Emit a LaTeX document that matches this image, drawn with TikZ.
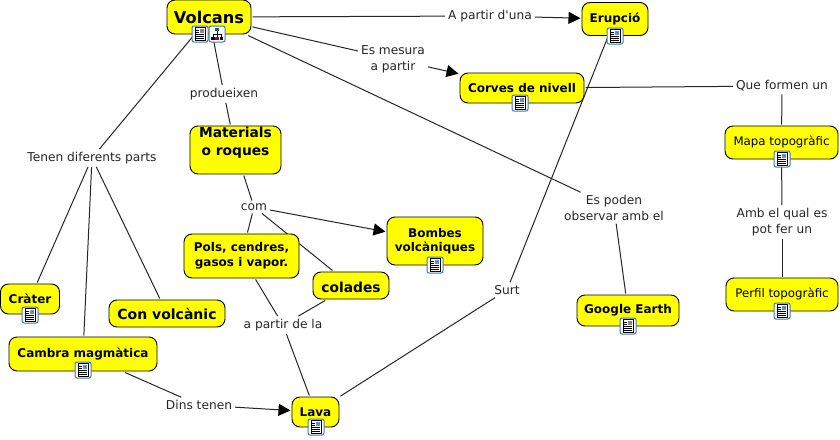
\documentclass[tikz,border=0pt]{standalone}
\usepackage{fontspec}
\setmainfont{DejaVu Sans}
\newfontfamily\plaindv{DejaVu Sans}
\usetikzlibrary{arrows.meta,backgrounds}
\definecolor{cmapy}{HTML}{FFFF00}
\definecolor{iconb}{HTML}{3C78C0}
\tikzset{
  concept/.style={draw=black,line width=0.9pt,fill=cmapy,rounded corners=8pt,align=center,inner sep=0pt,outer sep=1.5pt,text=black},
  lbl/.style={font=\fontsize{12.2}{16}\selectfont,align=center,inner sep=2pt,outer sep=1pt,text=black!85},
  conn/.style={draw=black!85,line width=1pt},
  arr/.style={conn,-{Triangle[length=12pt,width=12pt,color=black]}},
  docicon/.pic={
    \draw[iconb,fill=white,rounded corners=2pt,line width=1pt] (-8,-8) rectangle (8,8);
    \draw[black,fill=white,line width=0.8pt] (-5,-6.5) rectangle (5,6.5);
    \fill[iconb!80] (0,-5.5) rectangle (4.2,-1);
    \fill[red!60!orange] (1.5,-4.5) rectangle (3.2,-3);
    \foreach \yy in {0.5,2.5,4.5}{\draw[black,line width=0.7pt] (-4,\yy) -- (4,\yy);}
    \draw[black,line width=0.7pt] (-4,-3.5) -- (-1,-3.5);
    \draw[black,line width=0.7pt] (-4,-1.5) -- (-1,-1.5);
  },
  treeicon/.pic={
    \draw[iconb,fill=white,rounded corners=2pt,line width=1pt] (-8,-8) rectangle (8,8);
    \draw[black,line width=0.7pt] (0,-3) -- (0,0) (-4,3) -- (-4,0) -- (4,0) -- (4,3) (0,0) -- (0,3);
    \fill[iconb!70!black] (-1.8,-6) rectangle (1.8,-3);
    \fill[black!80!blue] (-6,2.5) rectangle (-2.5,6);
    \fill[red!70!black] (-1.6,2.5) rectangle (1.6,6);
    \fill[black!80!blue] (2.5,2.5) rectangle (6,6);
  }
}
\begin{document}
\begin{tikzpicture}[x=1pt,y=-1pt]
\useasboundingbox (0,0) rectangle (840,439);
% concepts
\node[concept,minimum width=84pt,minimum height=34pt,font=\fontsize{16.2}{20}\selectfont\bfseries] (volc) at (209,17) {Volcans};
\node[concept,minimum width=66pt,minimum height=33pt,font=\fontsize{12}{15}\selectfont\bfseries] (erup) at (615,19) {Erupció};
\node[concept,minimum width=124pt,minimum height=30pt,font=\fontsize{12}{15}\selectfont\bfseries] (corv) at (522,88) {Corves de nivell};
\node[concept,minimum width=91pt,minimum height=48pt,text height=14pt,font=\fontsize{13.8}{18}\selectfont\bfseries] (mat) at (235.5,150) {Materials\\o roques};
\node[concept,minimum width=113pt,minimum height=33pt,font=\fontsize{11.8}{15}\selectfont] (mapa) at (781.5,142.5) {Mapa topogràfic};
\node[concept,minimum width=112pt,minimum height=33pt,font=\fontsize{11.8}{15}\selectfont] (perf) at (782,294.5) {Perfil topogràfic};
\node[concept,minimum width=96pt,minimum height=48pt,font=\fontsize{12}{14.5}\selectfont\bfseries] (bomb) at (435,241) {Bombes\\volcàniques};
\node[concept,minimum width=115pt,minimum height=44pt,font=\fontsize{12}{15}\selectfont\bfseries] (pols) at (241.5,256) {Pols, cendres,\\gasos i vapor.};
\node[concept,minimum width=76pt,minimum height=27pt,text height=14pt,font=\fontsize{13.8}{18}\selectfont\bfseries] (cola) at (351,285.5) {colades};
\node[concept,minimum width=116pt,minimum height=27pt,text height=13pt,font=\fontsize{14}{18}\selectfont\bfseries] (con) at (167,313.5) {Con volcànic};
\node[concept,minimum width=59pt,minimum height=30pt,font=\fontsize{12}{15}\selectfont\bfseries] (crat) at (30,299) {Cràter};
\node[concept,minimum width=148pt,minimum height=34pt,font=\fontsize{12}{15}\selectfont\bfseries] (camb) at (83,354) {Cambra magmàtica};
\node[concept,minimum width=47pt,minimum height=30pt,font=\fontsize{12}{15}\selectfont\bfseries] (lava) at (315.5,412) {Lava};
\node[concept,minimum width=102pt,minimum height=31pt,font=\fontsize{12}{15}\selectfont\bfseries] (goog) at (628,310.5) {Google Earth};
% labels
\node[lbl] (lpartir) at (490,16) {\plaindv A partir d'una};
\node[lbl] (lmesura) at (393,59) {Es mesura\\a partir};
\node[lbl] (lpoden) at (614,208) {Es poden\\observar amb el};
\node[lbl] (lprod) at (224,94) {produeixen};
\node[lbl] (ltenen) at (92,158) {Tenen diferents parts};
\node[lbl] (lcom) at (254,207) {com};
\node[lbl] (lapartir) at (283,325) {a partir de la};
\node[lbl] (ldins) at (199,405) {Dins tenen};
\node[lbl] (lsurt) at (507,290) {Surt};
\node[lbl] (lque) at (782,86) {Que formen un};
\node[lbl] (lamb) at (782,222) {Amb el qual es\\pot fer un};
% connectors
\begin{pgfonlayer}{background}
\fill[white] (0,0) rectangle (840,439);
\draw[conn] (volc) -- (lpartir);
\draw[arr] (lpartir) -- (erup);
\draw[conn] (volc) -- (lmesura);
\draw[arr] (lmesura) -- (corv);
\draw[conn] (volc) -- (lpoden);
\draw[conn] (lpoden) -- (goog);
\draw[conn] (volc) -- (lprod);
\draw[conn] (lprod) -- (mat);
\draw[conn] (volc) -- (ltenen);
\draw[conn] (ltenen) -- (crat);
\draw[conn] (ltenen) -- (camb);
\draw[conn] (ltenen) -- (con);
\draw[conn] (mat) -- (lcom);
\draw[conn] (lcom) -- (pols);
\draw[conn] (lcom) -- (cola);
\draw[arr] (lcom) -- (bomb);
\draw[conn] (pols) -- (lapartir);
\draw[conn] (cola) -- (lapartir);
\draw[conn] (lapartir) -- (lava);
\draw[conn] (camb) -- (ldins);
\draw[arr] (ldins) -- (lava);
\draw[conn] (lava) -- (lsurt);
\draw[conn] (lsurt) -- (erup);
\draw[conn] (corv) -- (lque);
\draw[conn] (lque) -- (mapa);
\draw[conn] (mapa) -- (lamb);
\draw[conn] (lamb) -- (perf);
\end{pgfonlayer}
% icons
\pic at (200,34) {docicon};
\pic at (217,34) {treeicon};
\pic at (615,36) {docicon};
\pic at (520,103) {docicon};
\pic at (782,159) {docicon};
\pic at (782,311) {docicon};
\pic at (435,265) {docicon};
\pic at (628,326) {docicon};
\pic at (316,427) {docicon};
\pic at (83,370) {docicon};
\pic at (30,315) {docicon};
\end{tikzpicture}
\end{document}
